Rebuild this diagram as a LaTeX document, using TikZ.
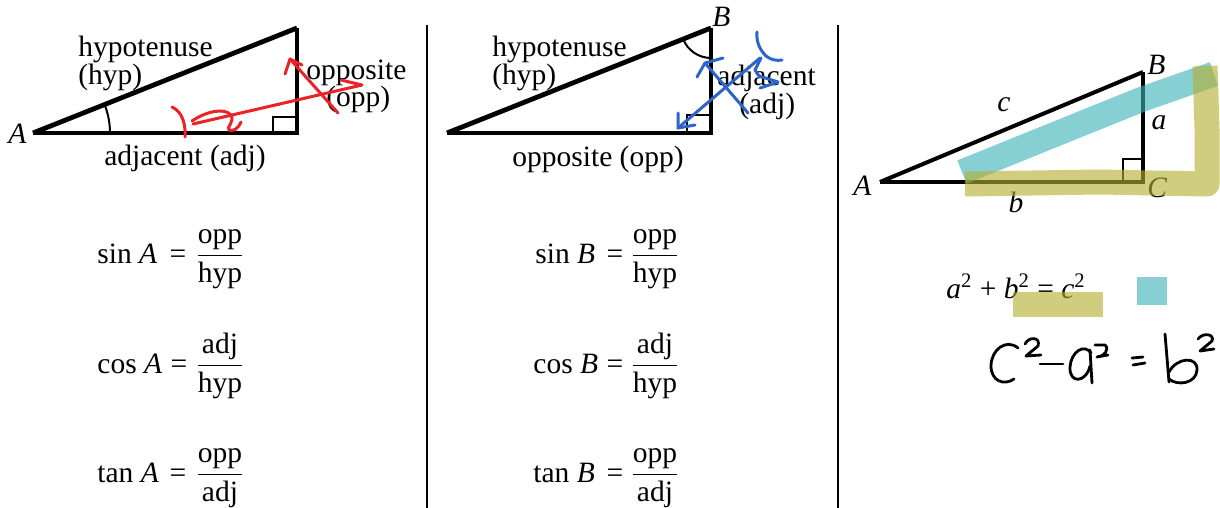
\documentclass[tikz,border=0pt]{standalone}
\usepackage{amsmath}
\usepackage{fontspec}
\setmainfont{Liberation Serif}
\usetikzlibrary{calc}
\definecolor{annored}{RGB}{235,35,40}
\definecolor{annoblue}{RGB}{45,100,200}
\definecolor{hlteal}{RGB}{60,180,185}
\definecolor{hlolive}{RGB}{180,175,50}
\newcommand\fr[2]{$\dfrac{\text{#1}}{\text{#2}}$}
\begin{document}
\begin{tikzpicture}[x=0.5pt,y=-0.5pt,
  txt/.style={font=\fontsize{14.75}{17}\selectfont, inner sep=0pt, anchor=base west},
  ctr/.style={font=\fontsize{14.75}{17}\selectfont, inner sep=0pt, anchor=base},
  leg/.style={line width=1.6pt, line join=miter},
  hypline/.style={line width=2.4pt},
  sqr/.style={line width=1.2pt},
  angarc/.style={line width=1pt},
  sep/.style={line width=1pt},
  pen/.style={line width=1.5pt, line cap=round, line join=round},
  hl/.style={line width=12.5pt, opacity=0.62, line join=round}]
\useasboundingbox (0,0) rectangle (1220,508);
\fill[white] (0,0) rectangle (1220,508);

% separators
\coordinate (s1t) at (427,25); \coordinate (s1b) at (427,508);
\coordinate (s2t) at (838,25); \coordinate (s2b) at (838,508);
\draw[sep] (s1t) -- (s1b);
\draw[sep] (s2t) -- (s2b);

% ---------- panel 1 ----------
\coordinate (A1) at (33,133);
\coordinate (C1) at (297,133);
\coordinate (B1) at (297,28);
\draw[leg] (A1) -- (C1) -- (B1);
\draw[hypline] (A1) -- (B1);
\draw[sqr] ($(C1)+(-24,0)$) -- ++(0,-16) -- ++(24,0);
\draw[angarc] ($(A1)+(77,0)$) arc[start angle=0, end angle=-21.7, radius=77];
\node[txt] (lA1) at (8,143) {\textit{A}};
\node[txt] (hyp1) at (78,57) {hypotenuse};
\node[txt] (hyp1b) at (78,85) {(hyp)};
\node[txt] (opp1) at (306,80) {opposite};
\node[txt] (opp1b) at (326,107) {(opp)};
\node[ctr] (adj1) at (185,165) {adjacent (adj)};

\node[txt] (sinA) at (97,263) {sin \textit{A}};
\node[ctr] (sinAeq) at (178,263) {=};
\node[ctr] (sinAfr) at (220,263) {\fr{opp}{hyp}};
\node[txt] (cosA) at (97,373) {cos \textit{A}};
\node[ctr] (cosAeq) at (179,373) {=};
\node[ctr] (cosAfr) at (220,373) {\fr{adj}{hyp}};
\node[txt] (tanA) at (97,482) {tan \textit{A}};
\node[ctr] (tanAeq) at (178,482) {=};
\node[ctr] (tanAfr) at (220,482) {\fr{opp}{adj}};

% red annotations
\draw[pen, annored] (172,107) .. controls (181,111) and (186,122) .. (185,137);
\draw[pen, annored] (192,121) .. controls (205,112) and (224,107) .. (231,115)
  .. controls (235,122) and (226,127) .. (229,130) .. controls (233,132) and (239,128) .. (241,122);
\draw[pen, annored] (193,124) -- (362,85) -- (341,80);
\draw[pen, annored] (338,113) -- (290,59);
\draw[pen, annored] (285,74) -- (290,59) -- (302,65);

% ---------- panel 2 ----------
\coordinate (A2) at (447,133);
\coordinate (C2) at (711,133);
\coordinate (B2) at (711,28);
\draw[leg] (A2) -- (C2) -- (B2);
\draw[hypline] (A2) -- (B2);
\draw[sqr] ($(C2)+(-24,0)$) -- ++(0,-18) -- ++(24,0);
\draw[angarc] ($(B2)+(0,30)$) arc[start angle=90, end angle=158.5, radius=30];
\node[txt] (lB2) at (712,27) {\textit{B}};
\node[txt] (hyp2) at (492,57) {hypotenuse};
\node[txt] (hyp2b) at (492,85) {(hyp)};
\node[txt] (adj2) at (717,86) {adjacent};
\node[txt] (adj2b) at (739,113) {(adj)};
\node[ctr] (opp2) at (598,166) {opposite (opp)};

\node[txt] (sinB) at (535,263) {sin \textit{B}};
\node[ctr] (sinBeq) at (615,263) {=};
\node[ctr] (sinBfr) at (655,263) {\fr{opp}{hyp}};
\node[txt] (cosB) at (533,373) {cos \textit{B}};
\node[ctr] (cosBeq) at (615,373) {=};
\node[ctr] (cosBfr) at (655,373) {\fr{adj}{hyp}};
\node[txt] (tanB) at (533,482) {tan \textit{B}};
\node[ctr] (tanBeq) at (615,482) {=};
\node[ctr] (tanBfr) at (655,482) {\fr{opp}{adj}};

% blue annotations
\draw[pen, annoblue] (760,58) -- (678,128);
\draw[pen, annoblue] (678,113) -- (678,128) -- (695,125);
\draw[pen, annoblue] (748,113) -- (705,63);
\draw[pen, annoblue] (697,77) -- (705,63) -- (723,58);
\draw[pen, annoblue] (757,32) .. controls (756,42) and (760,50) .. (766,56) .. controls (771,60) and (777,61) .. (782,60);
\draw[pen, annoblue] (761,58) -- (755,70) -- (759,76) -- (778,82) -- (760,88);

% ---------- panel 3 ----------
\coordinate (A3) at (880,182);
\coordinate (C3) at (1143,182);
\coordinate (B3) at (1143,72);
\draw[leg] (A3) -- (C3) -- (B3);
\draw[line width=2pt] (A3) -- (B3);
\draw[sqr] ($(C3)+(-20,0)$) -- ++(0,-23) -- ++(20,0);
\node[txt] (lA3) at (853,195) {\textit{A}};
\node[txt] (lB3) at (1147,75) {\textit{B}};
\node[txt] (lC3) at (1147,197) {\textit{C}};
\node[ctr] (lc3) at (1004,112) {\textit{c}};
\node[ctr] (la3) at (1159,130) {\textit{a}};
\node[ctr] (lb3) at (1016,212) {\textit{b}};

\node[txt] (pyth) at (946,298) {\textit{a}\textsuperscript{2} + \textit{b}\textsuperscript{2} = \textit{c}\textsuperscript{2}};

% highlights
\draw[hl, hlteal] (962,172) -- (1140,100) -- (1214,74);
\draw[hl, hlolive] (965,184) -- (1100,182) -- (1207,184) -- (1207,130) -- (1205,66);
\fill[hlolive, opacity=0.62] (1013,292) rectangle (1103,317);
\fill[hlteal, opacity=0.62] (1137,277) rectangle (1167,305);

% handwritten c^2 - a^2 = b^2
\begin{scope}[pen, black, line width=1.4pt]
\draw (1018,348) .. controls (1006,338) and (991,350) .. (991,366) .. controls (991,381) and (1004,386) .. (1014,379);
\draw (1025,344) .. controls (1029,336) and (1041,337) .. (1038,346) -- (1026,356) -- (1041,355);
\draw (1040,364) -- (1063,364);
\draw (1091,353) .. controls (1084,343) and (1071,352) .. (1070,367) .. controls (1069,384) and (1086,383) .. (1090,366);
\draw (1090,350) -- (1092,383);
\draw (1095,345) -- (1105,345) .. controls (1110,349) and (1104,357) .. (1097,357) -- (1108,355);
\draw (1132,358) -- (1143,357);
\draw (1133,365) -- (1145,363);
\draw (1165,334) -- (1169,382);
\draw (1169,372) .. controls (1177,357) and (1198,356) .. (1197,370) .. controls (1196,384) and (1177,386) .. (1169,379);
\draw (1198,339) .. controls (1203,332) and (1215,334) .. (1212,341) -- (1200,351) -- (1214,349);
\end{scope}
\end{tikzpicture}
\end{document}
